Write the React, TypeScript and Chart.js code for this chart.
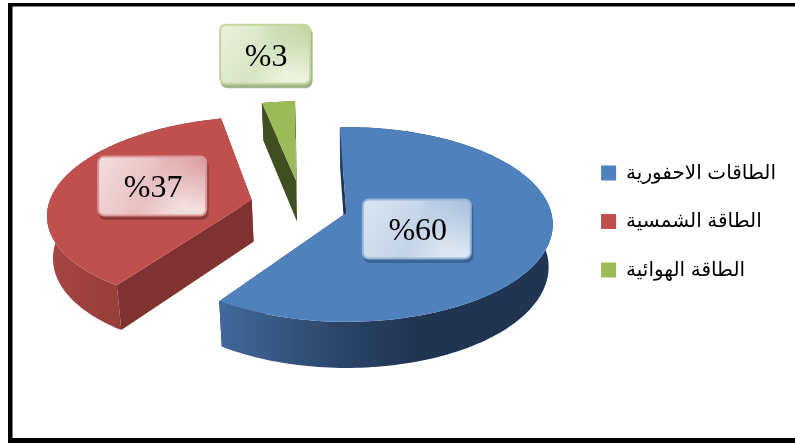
import React, { useEffect, useRef } from "react";
import { Chart, registerables } from "chart.js";

Chart.register(...registerables);

const categories = ["الطاقات الاحفورية", "الطاقة الشمسية", "الطاقة الهوائية"];
const shares = [60, 37, 3];
const sliceColors = ["#4F81BD", "#C0504D", "#9BBB59"];

// Explosion of each slice on the pie plane, in units of the radius.
const explodeX = [0, -0.469, -0.255];
const explodeY = [0, 0.137, 0.349];

// Side wall shading of each slice.
const rimStops = [
  ["#41699C", "#2B4568", "#1F3552"],
  ["#A84542", "#A54441", "#973E3B"],
  ["#3F4F22", "#3F4F22", "#3F4F22"],
];
const rimRangeX = [[220, 340, 420], [48, 60, 118], [260, 280, 300]];
const wallColors = ["#1F3552", "#7F3230", "#3F4F22"];

// Value badges: placement relative to the slice apex, then their tints.
const badgeShiftX = [70.5, -99.5, -31];
const badgeShiftY = [16, -14, -126.5];
const badgeWidths = [110, 110, 92];
const badgeHeight = 61;
const badgeLight = ["#DCE6F2", "#F3DEDE", "#EBF2DE"];
const badgeMid = ["#C3D3E7", "#E8BFC0", "#D8E4C2"];
const badgeDark = ["#A3BBD9", "#D9989A", "#BFD29E"];
const badgeEdge = ["#95B3D7", "#D99694", "#C3D69B"];
const badgeShade = ["#3B6396", "#8E3C39", "#A3B58A"];

// Camera model for the tilted pie.
const SCALE_X = 205;
const SCALE_Y = 96;
const TILT = 0.118;
const LIFT = -8.5;
const SQUEEZE = 0.98;

type Pt = [number, number];

const pie3d = {
  id: "pie3d",
  beforeDatasetsDraw(chart: any) {
    const ctx: CanvasRenderingContext2D = chart.ctx;
    const arcs = chart.getDatasetMeta(0).data;
    const cx = arcs[0].x;
    const cy = arcs[0].y + LIFT;

    const top = (X: number, Y: number): Pt => {
      const w = 1 + TILT * Y;
      return [cx + (SCALE_X * X) / w, cy - (SCALE_Y * Y) / w];
    };
    const low = (p: Pt): Pt => [
      cx + (p[0] - cx) * SQUEEZE,
      p[1] + 38 + (p[1] - 103) * 0.037,
    ];
    const fill = (pts: Pt[], style: any) => {
      ctx.beginPath();
      pts.forEach((p, i) => (i ? ctx.lineTo(p[0], p[1]) : ctx.moveTo(p[0], p[1])));
      ctx.closePath();
      ctx.fillStyle = style;
      ctx.fill();
    };

    const apexes: Pt[] = [];
    arcs.forEach((arc: any, i: number) => {
      const a0 = arc.startAngle + Math.PI / 2;
      const a1 = arc.endAngle + Math.PI / 2;
      const rim: Pt[] = [];
      const steps = 160;
      for (let s = 0; s <= steps; s++) {
        const t = a0 + ((a1 - a0) * s) / steps;
        rim.push(top(explodeX[i] + Math.sin(t), explodeY[i] + Math.cos(t)));
      }
      const apex = top(explodeX[i], explodeY[i]);
      apexes.push(apex);

      // Flat radial walls first, the curved wall over them, the top last.
      const first = rim[0];
      const last = rim[rim.length - 1];
      fill([apex, first, low(first), low(apex)], wallColors[i]);
      fill([apex, last, low(last), low(apex)], wallColors[i]);

      const [g0, g1, g2] = rimRangeX[i];
      const grad = ctx.createLinearGradient(g0, 0, g2, 0);
      grad.addColorStop(0, rimStops[i][0]);
      grad.addColorStop((g1 - g0) / (g2 - g0), rimStops[i][1]);
      grad.addColorStop(1, rimStops[i][2]);
      fill([...rim, ...rim.map(low).reverse()], grad);

      fill([apex, ...rim], arc.options.backgroundColor);
    });

    // Value badges on top of the slices.
    arcs.forEach((arc: any, i: number) => {
      const w = badgeWidths[i];
      const h = badgeHeight;
      const x = apexes[i][0] + badgeShiftX[i] - w / 2;
      const y = apexes[i][1] + badgeShiftY[i] - h / 2;
      ctx.beginPath();
      ctx.roundRect(x + 1.5, y + 3.5, w, h, 7);
      ctx.fillStyle = badgeShade[i];
      ctx.fill();

      const grad = ctx.createLinearGradient(x, y, x + w, y + h);
      grad.addColorStop(0, badgeLight[i]);
      grad.addColorStop(0.5, badgeMid[i]);
      grad.addColorStop(0.78, badgeLight[i]);
      grad.addColorStop(1, badgeLight[i]);
      ctx.save();
      ctx.beginPath();
      ctx.roundRect(x + 1, y + 1, w - 2, h - 2, 6);
      ctx.fillStyle = grad;
      ctx.fill();
      ctx.clip();
      // Darker corner at the upper right.
      const glow = ctx.createRadialGradient(x + w, y, 0, x + w, y, h * 0.9);
      glow.addColorStop(0, badgeDark[i]);
      glow.addColorStop(1, badgeDark[i] + "00");
      ctx.fillStyle = glow;
      ctx.fillRect(x, y, w, h);
      ctx.restore();
      ctx.beginPath();
      ctx.roundRect(x + 1, y + 1, w - 2, h - 2, 6);
      ctx.lineWidth = 2;
      ctx.strokeStyle = badgeEdge[i];
      ctx.stroke();

      ctx.fillStyle = "#000";
      ctx.font = '32px "Liberation Serif", "Times New Roman", serif';
      ctx.textAlign = "center";
      ctx.textBaseline = "middle";
      ctx.fillText(`%${shares[i]}`, x + w / 2 + 1, y + h / 2 + 3);
    });
    return false;
  },
  afterDraw(chart: any) {
    // Page frame: top, left and bottom rules, open at the right.
    const ctx: CanvasRenderingContext2D = chart.ctx;
    const { width, height } = chart;
    ctx.fillStyle = "#000";
    ctx.fillRect(8, 3, width - 8, 3.5);
    ctx.fillRect(8, 3, 4.5, height - 3);
    ctx.fillRect(8, height - 5, width - 8, 5);
  },
};

export default function App() {
  const ref = useRef<HTMLCanvasElement>(null);
  useEffect(() => {
    const chart = new Chart(ref.current!, {
      type: "pie",
      data: {
        labels: categories,
        datasets: [{ data: shares, backgroundColor: sliceColors, borderWidth: 0 }],
      },
      options: {
        responsive: false,
        animation: false,
        rotation: -2,
        layout: { padding: { left: 120, right: 9 } },
        plugins: {
          tooltip: { enabled: false },
          legend: {
            position: "right",
            labels: {
              boxWidth: 15,
              boxHeight: 15,
              padding: 28.5,
              color: "#000",
              font: { size: 20, family: '"Liberation Sans", Arial, "DejaVu Sans", sans-serif' },
            },
          },
        },
      },
      plugins: [pie3d],
    } as any);
    return () => chart.destroy();
  }, []);
  return (
    <div style={{ position: "fixed", left: 0, top: 0, width: 795, height: 443, background: "#fff" }}>
      <canvas ref={ref} width={795} height={443} style={{ display: "block" }} />
    </div>
  );
}
